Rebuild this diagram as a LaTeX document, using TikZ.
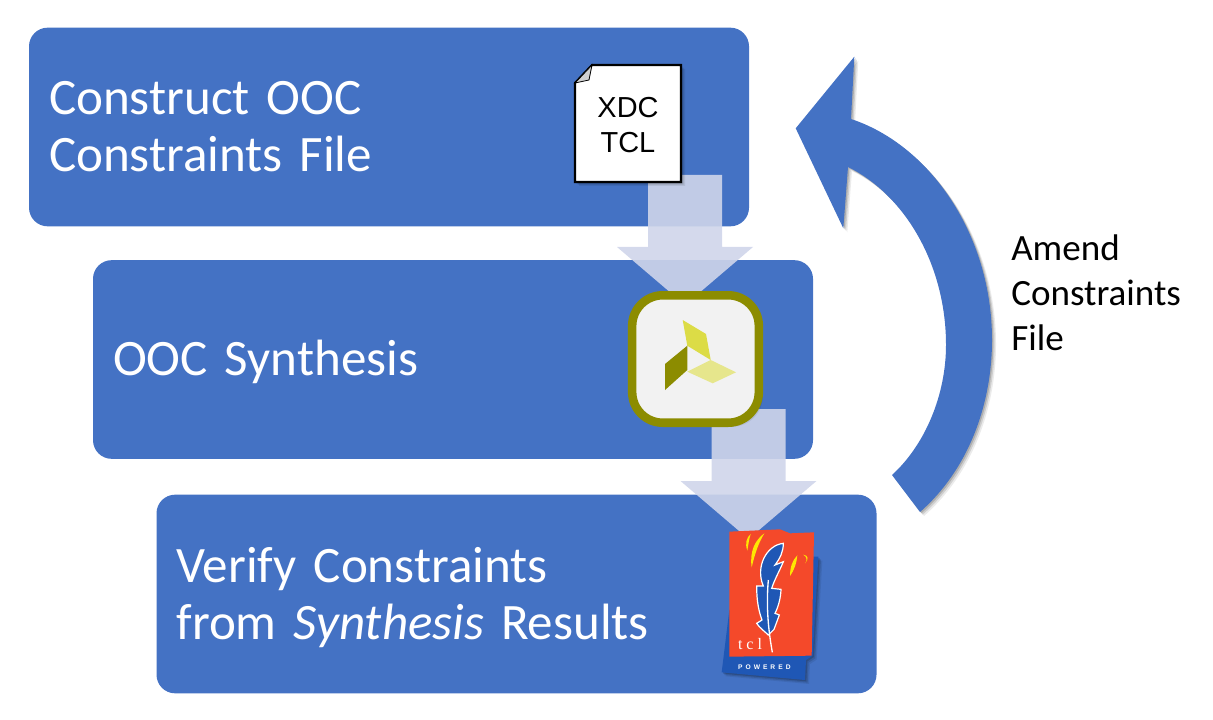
\documentclass[tikz,border=0pt]{standalone}
\usepackage{fontspec}
\setmainfont{Carlito}
\newfontfamily\arialfont{Liberation Sans}
\newfontfamily\tclfont[LetterSpace=25]{Liberation Serif}
\newfontfamily\poweredfont[LetterSpace=45]{Liberation Sans}
\usetikzlibrary{shadows}
\definecolor{stepblue}{HTML}{4472C4}
\definecolor{flowtint}{HTML}{CFD5EA}
\definecolor{vivadoolive}{HTML}{8C8C00}
\definecolor{vivadoyellow}{HTML}{DCDC46}
\definecolor{vivadopale}{HTML}{E6E68C}
\definecolor{tclred}{HTML}{F4492A}
\definecolor{tclblue}{HTML}{1F57B5}
\tikzset{
    softshadow/.style={
        drop shadow={shadow xshift=3pt,shadow yshift=-3pt,opacity=0.08,fill=black},
        drop shadow={shadow xshift=2pt,shadow yshift=-2pt,opacity=0.12,fill=black},
        drop shadow={shadow xshift=1pt,shadow yshift=-1pt,opacity=0.16,fill=black}
    },
    stepbox/.style={
        fill=stepblue, rounded corners=14pt, minimum width=540pt, minimum height=149pt,
        text=white, text width=510pt, inner sep=0pt, align=left,
        font=\fontsize{38.3}{42.7}\selectfont
    },
    sidelabel/.style={
        anchor=north west, inner sep=0pt, align=left,
        font=\fontsize{27.8}{33.8}\selectfont
    },
    flowarrow/.style={fill=flowtint, fill opacity=0.9}
}
\newcommand{\flowArrow}[2] {
	\fill[flowarrow] (#1-37,#2) -- (#1+37,#2) -- (#1+37,#2+72) -- (#1+68,#2+72)
		-- (#1,#2+130) -- (#1-68,#2+72) -- (#1-37,#2+72) -- cycle;
}
\begin{document}
\begin{tikzpicture}[x=0.75pt,y=-0.75pt]
		\useasboundingbox (0,0) rectangle (1213,720);
		
		% Steps and flow
		\node[stepbox] (construct) at (389,127) {Construct OOC\\Constraints File};
		\node[stepbox] (synthesis) at (453,359.5) {\rule{0pt}{30pt}OOC Synthesis};
		\node[stepbox] (verify) at (516.5,594) {\rule{0pt}{31pt}Verify Constraints\\from \textit{Synthesis} Results};
		\flowArrow{685}{175}
		\flowArrow{748.5}{409}
		
		% File icon
		\filldraw[fill=white, draw=black, line width=1.6pt, softshadow]
			(592,65) -- (681,65) -- (681,182) -- (575,182) -- (575,83) -- cycle;
		\filldraw[fill=black!18, draw=black, line width=0.6pt]
			(592,65) -- (589,80) -- (575,83) -- cycle;
		\node[font=\arialfont\fontsize{21.7}{26.5}\selectfont, align=center, inner sep=0pt] (xdcfile) at (628,125) {XDC\\TCL};
		
		% Synthesis icon
		\node[draw=vivadoolive, fill=black!5, line width=6.4pt, rounded corners=23pt,
			minimum width=95pt, minimum height=95.6pt, softshadow, inner sep=0pt] (vivado) at (695.5,359) {};
		\fill[vivadoyellow] (682.7,320) -- (706,334) -- (710.7,360) -- (687.3,345.7) -- cycle;
		\fill[vivadoolive] (687.3,345.7) -- (687.3,370) -- (665,390) -- (665,364) -- cycle;
		\fill[vivadopale] (710.7,360) -- (736,372.3) -- (712.7,383.3) -- (687.3,371.7) -- cycle;
		
		% Tcl logo, in the pixels of its own crop
		\begin{scope}[shift={(700,510)},x=0.25pt,y=-0.25pt]
			\fill[tclblue, softshadow] (338,140) -- (355,140) -- (338,437) -- (318,450) -- (315,510) -- (65,487) -- (88,300) -- cycle;
			\fill[tclred] (88,65) -- (240,58) -- (270,70) -- (342,67) -- (335,437) -- (88,440) -- cycle;
			% flames
			\fill[yellow!90!orange] (155,172) .. controls (148,125) and (165,90) .. (193,70) .. controls (175,100) and (165,130) .. (155,172) -- cycle;
			\fill[yellow!90!orange] (142,122) .. controls (134,100) and (140,82) .. (152,72) .. controls (147,88) and (145,104) .. (142,122) -- cycle;
			\fill[yellow!90!orange] (270,198) .. controls (270,170) and (278,150) .. (292,136) .. controls (290,158) and (284,178) .. (270,198) -- cycle;
			\fill[yellow!90!orange] (315,160) .. controls (322,152) and (322,142) .. (310,134) .. controls (325,136) and (327,148) .. (315,160) -- cycle;
			% feather
			\filldraw[fill=tclblue, draw=white, line width=0.9pt]
				(250,100) .. controls (200,105) and (165,170) .. (190,228) -- (170,228)
				.. controls (170,270) and (175,300) .. (186,330) -- (170,340)
				.. controls (180,355) and (195,365) .. (205,375)
				-- (222,358) -- (238,315) -- (225,310) .. controls (235,290) and (242,265) .. (243,238)
				-- (215,235) .. controls (225,205) and (240,180) .. (250,155) -- (225,165)
				.. controls (240,145) and (250,125) .. (250,100) -- cycle;
			\draw[white, line width=1pt] (205,210) .. controls (198,290) and (205,360) .. (217,427);
			\node[text=white, font=\tclfont\fontsize{12}{13}\selectfont, inner sep=0pt] (tcllabel) at (150,403) {tcl};
			\node[text=white, font=\poweredfont\bfseries\fontsize{5}{6}\selectfont, inner sep=0pt] (poweredlabel) at (193,471) {POWERED};
		\end{scope}
		
		% Return arrow
		\fill[stepblue, softshadow] (920,512) .. controls (968,470) and (992,405) .. (992,340)
			.. controls (992,235) and (930,145) .. (851,119) -- (854.3,56.7) -- (795.7,128.3) -- (843.3,228.3) -- (848,167)
			.. controls (905,195) and (946,265) .. (946,345) .. controls (946,395) and (925,445) .. (892,475) -- cycle;
		\node[sidelabel] (amend) at (1011,234) {Amend\\Constraints\\File};
	\end{tikzpicture}
\end{document}
